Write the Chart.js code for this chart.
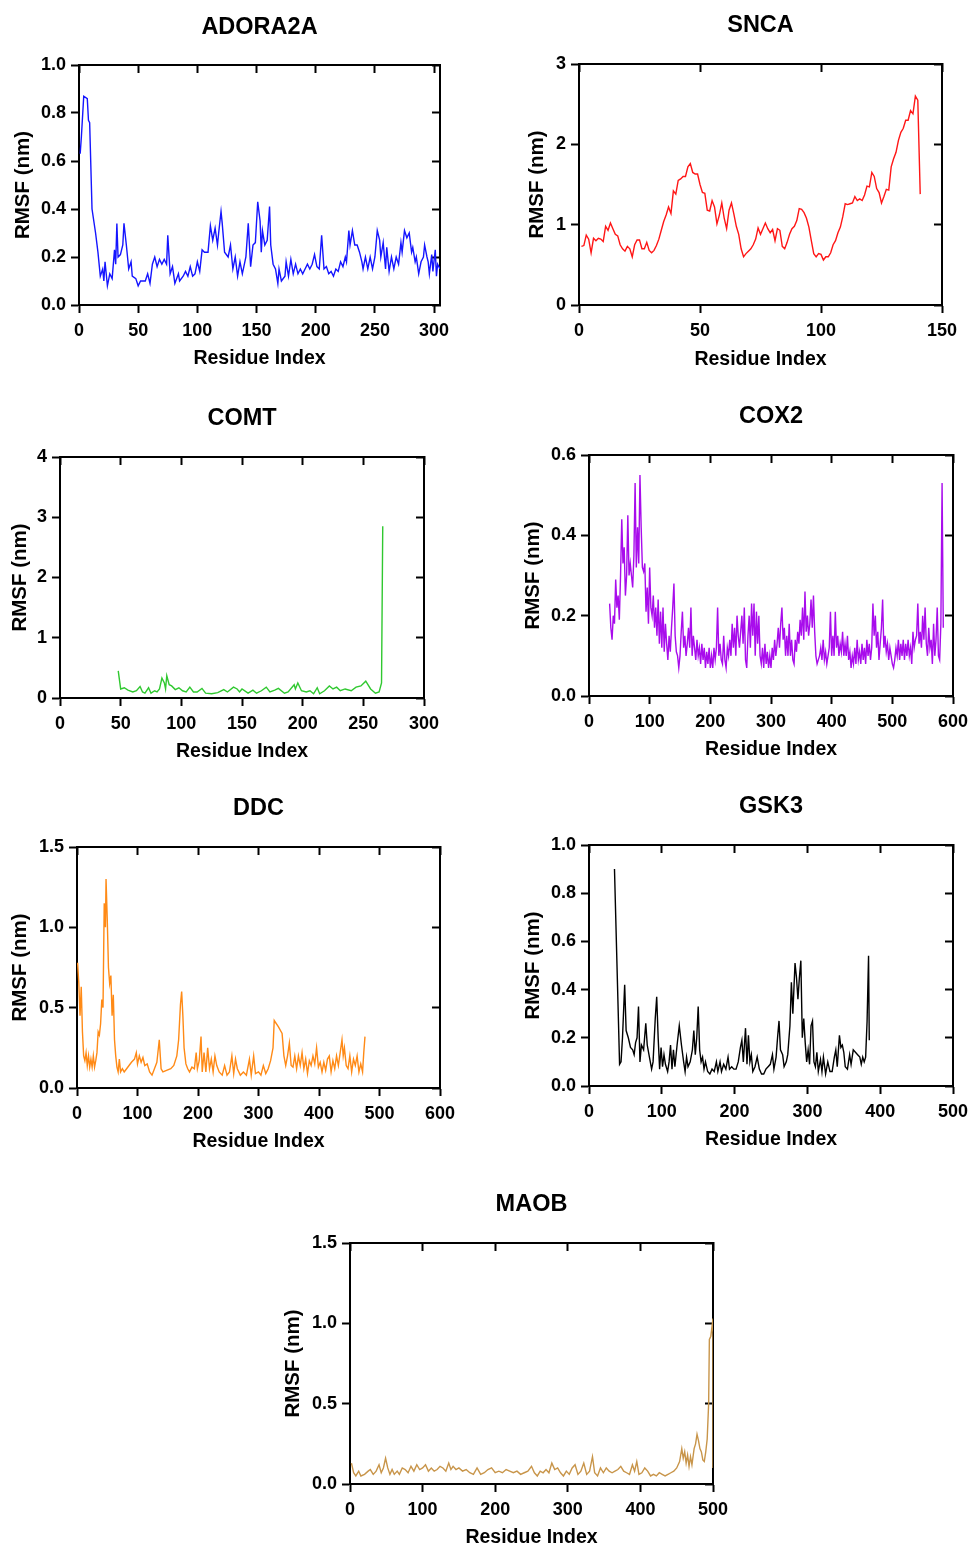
<!DOCTYPE html>
<html>
<head>
<meta charset="utf-8">
<script src="https://cdn.jsdelivr.net/npm/chart.js@4.4.1/dist/chart.umd.min.js"></script>
<style>
  body { margin: 0; background: #fff; width: 969px; height: 1546px; position: relative; overflow: hidden; }
</style>
</head>
<body>
<script>
// ---- data (residue index, RMSF in nm) ----

const adoraRes = [
  1,2,4,7,8,9,11,14,16,18,
  20,21,22,24,26,28,30,31,32,33,
  35,37,38,40,42,44,45,48,50,52,
  56,58,60,62,64,66,68,70,72,74,
  75,77,79,81,84,85,88,90,92,94,
  96,98,100,102,104,106,109,111,113,115,
  117,118,120,121,123,126,128,130,132,134,
  136,138,141,143,145,147,149,151,153,154,
  155,157,159,161,162,164,166,168,169,171,
  174,175,177,179,181,183,185,187,189,191,
  193,195,197,199,201,203,205,207,209,211,
  213,215,217,219,221,223,225,226,228,229,
  231,233,235,237,239,240,242,244,246,248,
  250,252,254,255,257,259,260,262,264,266,
  268,270,272,273,275,277,279,281,282,284,
  285,287,289,291,292,294,295,296,298,299,
  301,302,303,305
];
const adoraRmsf = [
  0.63,0.70,0.87,0.86,0.77,0.76,0.40,0.30,0.22,0.12,
  0.15,0.10,0.18,0.08,0.13,0.11,0.23,0.17,0.34,0.20,
  0.21,0.25,0.34,0.25,0.15,0.18,0.12,0.11,0.08,0.10,
  0.10,0.13,0.09,0.17,0.20,0.16,0.19,0.17,0.19,0.17,
  0.29,0.13,0.16,0.09,0.13,0.10,0.12,0.14,0.12,0.16,
  0.12,0.13,0.18,0.14,0.23,0.22,0.22,0.33,0.27,0.32,
  0.25,0.30,0.39,0.34,0.22,0.20,0.25,0.15,0.20,0.12,
  0.18,0.13,0.20,0.34,0.16,0.25,0.26,0.43,0.35,0.22,
  0.31,0.25,0.27,0.41,0.25,0.17,0.15,0.09,0.15,0.10,
  0.12,0.18,0.12,0.19,0.13,0.17,0.13,0.15,0.13,0.15,
  0.17,0.15,0.17,0.21,0.16,0.15,0.29,0.15,0.16,0.13,
  0.14,0.12,0.15,0.14,0.18,0.16,0.20,0.18,0.31,0.25,
  0.31,0.25,0.25,0.22,0.18,0.15,0.20,0.15,0.20,0.15,
  0.20,0.31,0.27,0.20,0.26,0.15,0.24,0.14,0.20,0.15,
  0.20,0.17,0.26,0.22,0.31,0.28,0.30,0.22,0.24,0.18,
  0.20,0.13,0.18,0.20,0.25,0.20,0.18,0.13,0.21,0.14,
  0.23,0.12,0.17,0.15
];

// SNCA: one value per residue, starting at residue 1
const sncaFirst = 1;
const sncaRmsf = [
  0.73,0.74,0.87,0.82,0.65,0.83,0.80,0.83,0.82,0.79,
  0.98,0.93,1.02,0.95,0.88,0.86,0.75,0.70,0.67,0.73,
  0.70,0.60,0.75,0.81,0.81,0.70,0.70,0.78,0.68,0.65,
  0.68,0.74,0.82,0.93,1.04,1.12,1.22,1.14,1.42,1.38,
  1.55,1.57,1.60,1.60,1.72,1.76,1.65,1.63,1.63,1.50,
  1.40,1.39,1.18,1.17,1.30,1.22,1.01,1.12,1.27,1.08,
  0.95,1.18,1.27,1.13,0.98,0.88,0.70,0.60,0.64,0.67,
  0.70,0.75,0.82,0.96,0.88,0.95,1.02,0.95,0.90,0.94,
  0.80,0.95,0.93,0.73,0.70,0.78,0.88,0.95,0.98,1.05,
  1.20,1.19,1.15,1.08,0.97,0.80,0.64,0.60,0.64,0.63,
  0.56,0.60,0.60,0.65,0.75,0.80,0.90,0.97,1.10,1.26,
  1.25,1.26,1.27,1.35,1.30,1.32,1.30,1.37,1.48,1.47,
  1.65,1.60,1.45,1.40,1.27,1.35,1.44,1.43,1.72,1.82,
  1.90,2.05,2.15,2.20,2.30,2.30,2.42,2.38,2.60,2.55,
  1.38
];
const sncaRes = sncaRmsf.map((_, i) => sncaFirst + i);

const comtRes = [
  48,50,53,56,60,63,66,68,70,73,
  75,78,80,82,84,86,87,88,90,92,
  95,98,101,104,107,110,113,117,120,125,
  130,135,138,143,146,148,150,155,159,162,
  166,170,173,177,180,185,188,193,194,196,
  199,203,206,209,212,214,218,222,225,228,
  231,235,240,244,248,252,256,260,263,265,
  266
];
const comtRmsf = [
  0.45,0.15,0.17,0.13,0.10,0.12,0.19,0.10,0.08,0.17,
  0.08,0.12,0.10,0.15,0.33,0.25,0.15,0.37,0.22,0.20,
  0.14,0.17,0.12,0.10,0.18,0.10,0.10,0.16,0.08,0.07,
  0.09,0.14,0.10,0.18,0.15,0.10,0.15,0.08,0.13,0.08,
  0.12,0.18,0.10,0.13,0.16,0.08,0.10,0.22,0.15,0.25,
  0.12,0.10,0.12,0.07,0.17,0.07,0.12,0.20,0.15,0.18,
  0.12,0.15,0.12,0.18,0.20,0.28,0.15,0.08,0.10,0.25,
  2.85
];

// COX2: read every second residue, from residue 34
const cox2First = 34, cox2Step = 2;
const cox2Rmsf = [
  0.23,0.17,0.14,0.20,0.18,0.29,0.22,0.25,0.19,0.30,
  0.44,0.33,0.37,0.25,0.30,0.45,0.30,0.33,0.30,0.27,
  0.35,0.53,0.32,0.42,0.33,0.55,0.42,0.32,0.31,0.33,
  0.21,0.27,0.18,0.32,0.22,0.20,0.25,0.17,0.22,0.15,
  0.24,0.13,0.21,0.12,0.22,0.11,0.18,0.13,0.09,0.15,
  0.11,0.17,0.22,0.28,0.15,0.11,0.10,0.07,0.10,0.16,
  0.21,0.12,0.15,0.10,0.13,0.17,0.12,0.22,0.10,0.15,
  0.12,0.09,0.14,0.10,0.12,0.08,0.13,0.09,0.12,0.07,
  0.11,0.08,0.12,0.07,0.10,0.07,0.12,0.09,0.12,0.22,
  0.10,0.13,0.09,0.08,0.15,0.09,0.07,0.12,0.10,0.14,
  0.10,0.18,0.12,0.17,0.10,0.20,0.15,0.12,0.16,0.20,
  0.13,0.22,0.09,0.07,0.15,0.20,0.12,0.23,0.15,0.23,
  0.10,0.21,0.13,0.20,0.10,0.08,0.12,0.07,0.13,0.08,
  0.11,0.07,0.10,0.07,0.12,0.09,0.14,0.10,0.13,0.17,
  0.12,0.18,0.22,0.14,0.17,0.10,0.15,0.10,0.18,0.10,
  0.14,0.09,0.08,0.14,0.11,0.16,0.13,0.19,0.15,0.22,
  0.14,0.26,0.16,0.20,0.15,0.18,0.24,0.17,0.25,0.16,
  0.10,0.08,0.09,0.10,0.12,0.09,0.14,0.09,0.11,0.08,
  0.10,0.12,0.21,0.10,0.15,0.10,0.21,0.12,0.15,0.10,
  0.13,0.11,0.16,0.10,0.13,0.10,0.15,0.09,0.11,0.07,
  0.10,0.08,0.12,0.08,0.14,0.09,0.11,0.08,0.13,0.09,
  0.12,0.08,0.14,0.10,0.13,0.09,0.12,0.23,0.15,0.20,
  0.12,0.16,0.09,0.13,0.17,0.24,0.12,0.15,0.11,0.13,
  0.09,0.12,0.10,0.08,0.07,0.09,0.12,0.10,0.14,0.09,
  0.13,0.10,0.14,0.09,0.13,0.10,0.14,0.10,0.12,0.08,
  0.16,0.12,0.14,0.15,0.23,0.13,0.16,0.12,0.20,0.14,
  0.22,0.13,0.10,0.17,0.12,0.14,0.08,0.18,0.10,0.14,
  0.22,0.10,0.09,0.18,0.53,0.17
];
const cox2Res = cox2Rmsf.map((_, i) => cox2First + i * cox2Step);

const ddcRes = [
  1,3,5,7,9,11,13,15,17,19,
  21,23,25,27,29,31,33,35,37,39,
  41,43,45,47,48,50,52,54,56,58,
  60,62,64,66,68,70,72,75,78,82,
  86,90,95,98,100,103,106,109,112,116,
  120,124,128,132,136,139,142,148,155,160,
  165,168,171,173,175,177,180,183,186,190,
  194,197,199,202,205,207,210,213,216,219,
  222,225,228,231,235,240,244,248,252,256,
  259,262,265,270,275,280,285,288,292,295,
  300,304,308,312,316,320,324,326,333,339,
  342,345,348,351,354,357,360,363,366,369,
  372,375,378,381,384,387,390,393,396,399,
  402,405,408,411,414,417,420,423,426,429,
  432,435,438,440,442,445,448,451,454,457,
  460,463,466,469,472,474,476
];
const ddcRmsf = [
  0.78,0.65,0.45,0.63,0.35,0.20,0.17,0.22,0.14,0.20,
  0.13,0.18,0.13,0.20,0.13,0.17,0.22,0.35,0.33,0.40,
  0.55,0.50,1.15,1.00,1.30,1.05,0.75,0.65,0.70,0.45,
  0.58,0.30,0.20,0.13,0.10,0.18,0.10,0.12,0.10,0.12,
  0.14,0.16,0.18,0.22,0.15,0.20,0.16,0.19,0.14,0.15,
  0.10,0.08,0.12,0.16,0.30,0.12,0.10,0.11,0.12,0.14,
  0.20,0.30,0.52,0.60,0.45,0.25,0.15,0.12,0.10,0.13,
  0.12,0.22,0.12,0.17,0.32,0.10,0.22,0.10,0.25,0.12,
  0.18,0.10,0.20,0.14,0.10,0.08,0.14,0.08,0.10,0.20,
  0.09,0.18,0.12,0.08,0.10,0.08,0.18,0.08,0.20,0.09,
  0.10,0.08,0.14,0.09,0.12,0.17,0.25,0.42,0.38,0.34,
  0.20,0.14,0.20,0.28,0.14,0.13,0.20,0.12,0.20,0.14,
  0.22,0.12,0.18,0.09,0.17,0.14,0.20,0.15,0.25,0.13,
  0.16,0.10,0.16,0.11,0.18,0.20,0.10,0.17,0.12,0.20,
  0.14,0.22,0.30,0.20,0.25,0.14,0.12,0.20,0.10,0.18,
  0.14,0.20,0.10,0.15,0.10,0.22,0.32
];

const gskRes = [
  35,42,44,46,49,51,54,57,60,62,
  64,66,68,70,72,75,78,80,83,86,
  88,91,93,95,97,99,101,103,105,108,
  110,112,114,116,118,121,124,127,130,132,
  134,136,139,142,144,146,148,150,152,154,
  156,158,160,163,166,169,172,175,177,180,
  182,185,188,191,193,196,199,202,205,208,
  210,212,215,217,219,221,223,225,228,231,
  234,237,240,243,246,249,252,254,257,259,
  261,263,266,268,271,273,276,278,280,283,
  285,287,289,291,293,295,297,299,301,303,
  305,307,309,311,313,315,318,320,322,325,
  328,331,334,337,339,341,344,346,348,350,
  352,355,358,360,363,366,369,372,374,376,
  378,380,382,384,385
];
const gskRmsf = [
  0.90,0.09,0.10,0.20,0.42,0.23,0.20,0.16,0.15,0.13,
  0.18,0.20,0.33,0.10,0.17,0.15,0.26,0.17,0.12,0.07,
  0.10,0.28,0.37,0.20,0.07,0.16,0.08,0.13,0.09,0.06,
  0.10,0.17,0.07,0.15,0.08,0.17,0.25,0.17,0.10,0.06,
  0.12,0.08,0.10,0.15,0.23,0.13,0.20,0.33,0.15,0.10,
  0.12,0.07,0.10,0.06,0.05,0.07,0.06,0.10,0.06,0.10,
  0.06,0.09,0.07,0.12,0.07,0.08,0.07,0.07,0.10,0.16,
  0.19,0.10,0.24,0.09,0.21,0.10,0.13,0.06,0.08,0.12,
  0.07,0.05,0.05,0.07,0.08,0.09,0.13,0.07,0.12,0.20,
  0.27,0.15,0.13,0.08,0.10,0.13,0.25,0.43,0.30,0.51,
  0.45,0.36,0.45,0.52,0.20,0.28,0.18,0.10,0.15,0.09,
  0.25,0.27,0.10,0.08,0.14,0.06,0.11,0.06,0.12,0.05,
  0.10,0.06,0.06,0.12,0.15,0.08,0.21,0.16,0.17,0.14,
  0.08,0.07,0.13,0.09,0.15,0.14,0.13,0.12,0.09,0.12,
  0.10,0.12,0.27,0.54,0.19
];

const maobRes = [
  2,5,8,12,15,20,25,28,32,36,
  40,43,46,49,52,55,58,61,65,68,
  72,76,80,84,88,92,96,100,104,108,
  112,116,120,124,128,132,136,139,142,146,
  150,155,160,165,170,175,180,185,190,195,
  200,205,210,215,220,225,230,235,240,245,
  250,254,258,262,266,270,274,278,282,286,
  290,294,298,302,306,310,314,318,322,326,
  330,334,337,341,345,349,353,357,361,365,
  369,373,377,381,385,389,392,395,398,402,
  406,410,414,418,422,426,430,434,438,442,
  446,450,454,457,459,461,463,465,467,469,
  471,474,476,478,480,482,484,486,488,490,
  492,494,495,497,500,500
];
const maobRmsf = [
  0.13,0.07,0.05,0.08,0.05,0.06,0.08,0.09,0.06,0.08,
  0.12,0.07,0.10,0.16,0.10,0.06,0.09,0.06,0.08,0.06,
  0.10,0.09,0.07,0.11,0.08,0.12,0.09,0.10,0.12,0.08,
  0.10,0.08,0.09,0.11,0.10,0.08,0.13,0.09,0.11,0.09,
  0.10,0.08,0.09,0.07,0.06,0.10,0.06,0.07,0.09,0.10,
  0.07,0.08,0.07,0.09,0.08,0.07,0.08,0.06,0.07,0.08,
  0.11,0.07,0.05,0.08,0.07,0.09,0.07,0.13,0.09,0.10,
  0.07,0.05,0.08,0.06,0.10,0.12,0.06,0.08,0.13,0.06,
  0.08,0.17,0.07,0.05,0.10,0.07,0.10,0.08,0.07,0.08,
  0.09,0.11,0.08,0.07,0.06,0.12,0.08,0.14,0.06,0.07,
  0.10,0.08,0.05,0.06,0.05,0.07,0.06,0.05,0.06,0.07,
  0.08,0.10,0.14,0.22,0.16,0.20,0.13,0.18,0.11,0.17,
  0.12,0.22,0.25,0.31,0.27,0.22,0.20,0.15,0.14,0.20,
  0.28,0.50,0.90,0.92,1.03,0.10
];

// ---- layout ----
// box: plot left, plot top, plot right, plot bottom, title y, y-title x, x-title y
const panels = [
  { title: 'ADORA2A', res: adoraRes, rmsf: adoraRmsf, color: '#1515ff', xMax: 305, xStep: 50,  yMax: 1.0, yStep: 0.2, dec: 1, box: [79, 65, 440, 305, 27, 23, 358] },
  { title: 'SNCA',    res: sncaRes,  rmsf: sncaRmsf,  color: '#ff1616', xMax: 150, xStep: 50,  yMax: 3,   yStep: 1,   dec: 0, box: [579, 64, 942, 305, 25, 537, 359] },
  { title: 'COMT',    res: comtRes,  rmsf: comtRmsf,  color: '#30c830', xMax: 300, xStep: 50,  yMax: 4,   yStep: 1,   dec: 0, box: [60, 457, 424, 698, 418, 20, 751] },
  { title: 'COX2',    res: cox2Res,  rmsf: cox2Rmsf,  color: '#a80cec', xMax: 600, xStep: 100, yMax: 0.6, yStep: 0.2, dec: 1, box: [589, 455, 953, 696, 416, 533, 749] },
  { title: 'DDC',     res: ddcRes,   rmsf: ddcRmsf,   color: '#ff8a16', xMax: 600, xStep: 100, yMax: 1.5, yStep: 0.5, dec: 1, box: [77, 847, 440, 1088, 808, 20, 1141] },
  { title: 'GSK3',    res: gskRes,   rmsf: gskRmsf,   color: '#000000', xMax: 500, xStep: 100, yMax: 1.0, yStep: 0.2, dec: 1, box: [589, 845, 953, 1086, 806, 533, 1139] },
  { title: 'MAOB',    res: maobRes,  rmsf: maobRmsf,  color: '#c8954a', xMax: 500, xStep: 100, yMax: 1.5, yStep: 0.5, dec: 1, box: [350, 1243, 713, 1484, 1204, 293, 1537] }
];

Chart.defaults.font.family = '"Liberation Sans", Arial, sans-serif';
Chart.defaults.color = '#000';

const TITLE_SIZE = 23.5, XT_SIZE = 19.5, YT_SIZE = 20.5, TICK_SIZE = 18, LH = 1.2;

function drawPanel(p) {
  const [pl, pt, pr, pb, ty, yty, xty] = p.box;
  const left = Math.round(yty - YT_SIZE * LH / 2 - 2);
  const top = Math.round(ty - TITLE_SIZE * LH / 2 - 2);
  const right = pr + 26;
  const bottom = Math.round(xty + XT_SIZE * LH / 2 + 3);
  const w = right - left, h = bottom - top;

  const canvas = document.createElement('canvas');
  canvas.width = w;
  canvas.height = h;
  canvas.style.cssText = 'position:absolute;left:' + left + 'px;top:' + top + 'px;width:' + w + 'px;height:' + h + 'px';
  document.body.appendChild(canvas);

  const yAxisW = pl - left;
  const xAxisH = bottom - pb;
  const titlePadBottom = (pt - top) - TITLE_SIZE * LH - 2;

  const frame = { drawOnChartArea: false, tickWidth: 2, tickColor: '#000' };
  const border = { display: true, color: '#000', width: 2 };
  const tickFont = { size: TICK_SIZE, weight: 'bold' };

  new Chart(canvas, {
    type: 'line',
    data: {
      datasets: [{
        data: p.res.map((r, i) => ({ x: r, y: p.rmsf[i] })),
        borderColor: p.color,
        borderWidth: 1.4,
        pointRadius: 0,
        tension: 0,
        fill: false
      }]
    },
    options: {
      responsive: false,
      animation: false,
      devicePixelRatio: 1,
      events: [],
      layout: { padding: { left: 0, top: 0, right: 26, bottom: 0 } },
      plugins: {
        legend: { display: false },
        tooltip: { enabled: false },
        title: {
          display: true,
          text: p.title,
          fullSize: false,
          color: '#000',
          font: { size: TITLE_SIZE, weight: 'bold', lineHeight: LH },
          padding: { top: 2, bottom: titlePadBottom }
        }
      },
      scales: {
        x: {
          type: 'linear', position: 'bottom', min: 0, max: p.xMax,
          ticks: { stepSize: p.xStep, includeBounds: false, autoSkip: false, maxRotation: 0, padding: 7, font: tickFont, color: '#000' },
          grid: Object.assign({ tickLength: 8 }, frame),
          border: border,
          title: { display: true, text: 'Residue Index', color: '#000', font: { size: XT_SIZE, weight: 'bold', lineHeight: LH }, padding: { top: 0, bottom: 3 } },
          afterFit: s => { s.height = xAxisH; }
        },
        x2: {
          type: 'linear', position: 'top', min: 0, max: p.xMax,
          ticks: { display: false, stepSize: p.xStep, includeBounds: false },
          grid: Object.assign({ tickLength: -8 }, frame),
          border: border,
          afterFit: s => { s.height = 0; }
        },
        y: {
          type: 'linear', position: 'left', min: 0, max: p.yMax,
          ticks: { stepSize: p.yStep, includeBounds: false, padding: 5, font: tickFont, color: '#000', callback: v => Number(v).toFixed(p.dec) },
          grid: Object.assign({ tickLength: 8 }, frame),
          border: border,
          title: { display: true, text: 'RMSF (nm)', color: '#000', font: { size: YT_SIZE, weight: 'bold', lineHeight: LH }, padding: { top: 2, bottom: 0 } },
          afterFit: s => { s.width = yAxisW; }
        },
        y2: {
          type: 'linear', position: 'right', min: 0, max: p.yMax,
          ticks: { display: false, stepSize: p.yStep, includeBounds: false },
          grid: Object.assign({ tickLength: -8 }, frame),
          border: border,
          afterFit: s => { s.width = 0; }
        }
      }
    }
  });
}

panels.forEach(drawPanel);
</script>
</body>
</html>
